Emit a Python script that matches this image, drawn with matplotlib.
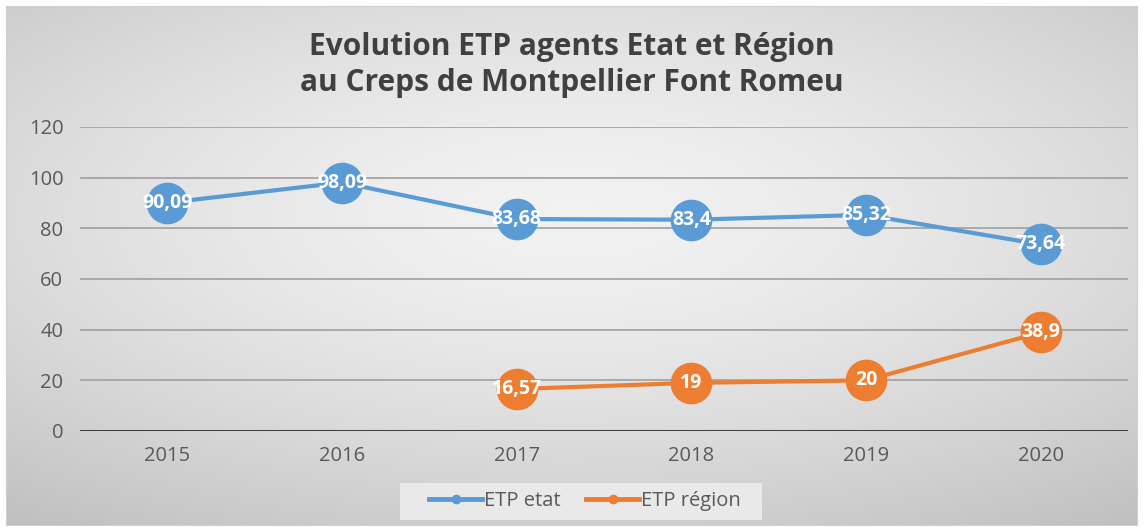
import numpy as np
import matplotlib
matplotlib.use("Agg")
import matplotlib.pyplot as plt
from matplotlib.lines import Line2D
from matplotlib.patches import Rectangle

years = ["2015", "2016", "2017", "2018", "2019", "2020"]
etat = [90.09, 98.09, 83.68, 83.4, 85.32, 73.64]
region_years = ["2017", "2018", "2019", "2020"]
region = [16.57, 19, 20, 38.9]
etat_labels = ["90,09", "98,09", "83,68", "83,4", "85,32", "73,64"]
region_labels = ["16,57", "19", "20", "38,9"]
yticks = [0, 20, 40, 60, 80, 100, 120]

BLUE = "#5B9BD5"
ORANGE = "#ED7D31"

plt.rcParams['font.family'] = ['Open Sans', 'DejaVu Sans']

fig = plt.figure(figsize=(11.43, 5.31), dpi=100)
fig.patch.set_facecolor("white")

# background gradient
bg = fig.add_axes([6/1143, 6/531, 1131/1143, 519/531])
h, w = 200, 400
yy, xx = np.mgrid[-1:1:h*1j, -1:1:w*1j]
r = np.sqrt((xx*0.9)**2 + ((yy + 0.2)*1.0)**2) / np.sqrt(0.81 + 1.44)
val = 0.95 - 0.20 * r**1.5
img = np.dstack([val, val, val])
bg.imshow(img, aspect="auto", extent=[0, 1, 0, 1], interpolation="bilinear")
bg.set_xlim(0, 1); bg.set_ylim(0, 1)
bg.set_xticks([]); bg.set_yticks([])
for s in bg.spines.values():
    s.set_color("#d0d0d0")
    s.set_linewidth(0.8)

ax = fig.add_axes([80/1143, 100/531, 1048/1143, 304/531])
ax.patch.set_alpha(0)
x = np.arange(len(years))
xr = np.array([years.index(y) for y in region_years])

ax.set_ylim(0, 120)
ax.set_xlim(-0.5, len(years) - 0.5)
ax.set_yticks(yticks)
for t in yticks[1:]:
    ax.axhline(t, color="#a0a0a0", lw=1.2, zorder=1)
ax.axhline(0, color="#404040", lw=2.2, zorder=2)

ax.plot(x, etat, color=BLUE, lw=3, marker="o", ms=29, zorder=3, label="ETP etat")
ax.plot(xr, region, color=ORANGE, lw=3, marker="o", ms=29, zorder=3, label="ETP région")

for xi, v, l in zip(x, etat, etat_labels):
    ax.text(xi, v, l, color="white", fontsize=14, fontweight="bold", ha="center", va="center", zorder=5)
for xi, v, l in zip(xr, region, region_labels):
    ax.text(xi, v, l, color="white", fontsize=14, fontweight="bold", ha="center", va="center", zorder=5)

ax.set_xticks(x)
ax.set_xticklabels(years)
ax.tick_params(axis="both", length=0, labelsize=14.5, colors="#595959")
ax.tick_params(axis="x", pad=11)
ax.tick_params(axis="y", pad=12)
for s in ax.spines.values():
    s.set_visible(False)

fig.text(0.5, 1 - 47/531, "Evolution ETP agents Etat et Région", ha="center", va="center",
         fontsize=21.5, fontweight="bold", color="#404040")
fig.text(0.5, 1 - 83/531, "au Creps de Montpellier Font Romeu", ha="center", va="center",
         fontsize=21.5, fontweight="bold", color="#404040")

fig.patches.append(Rectangle((400/1143, 1 - 520/531), 362/1143, 37/531, transform=fig.transFigure,
                             facecolor="#e9e9e9", edgecolor="none", zorder=1))
handles = [Line2D([], [], color=BLUE, lw=3.5, marker="o", ms=6),
           Line2D([], [], color=ORANGE, lw=3.5, marker="o", ms=6)]
leg = fig.legend(handles, ["ETP etat", "ETP région"], loc="center", bbox_to_anchor=(585/1143, 1 - 501/531),
                 ncol=2, frameon=False, fontsize=14.5, handlelength=2.65, handletextpad=0.1,
                 columnspacing=1.25)
for t in leg.get_texts():
    t.set_color("#595959")

fig.savefig("out.png", dpi=100)
